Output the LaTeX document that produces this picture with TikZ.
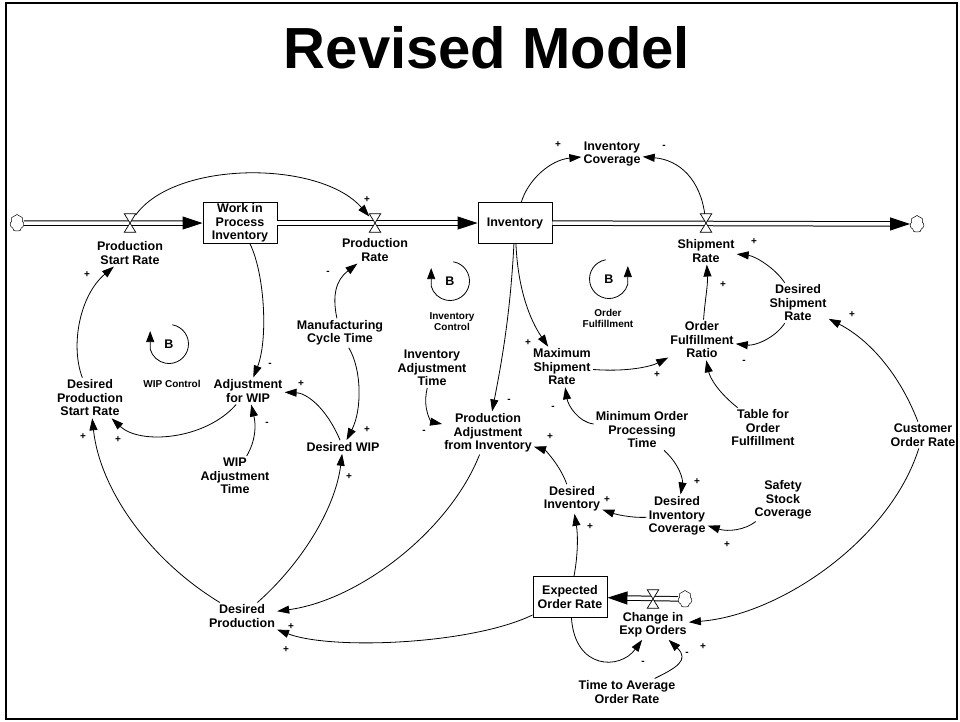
\documentclass[tikz,border=0pt]{standalone}
\usepackage{fontspec}
\setmainfont{Liberation Sans}
\usetikzlibrary{arrows.meta,shapes.symbols,calc}
\begin{document}
\begin{tikzpicture}[x=1pt,y=1pt,
  every node/.style={font=\bfseries\fontsize{12.5}{13.5}\selectfont},
  lbl/.style={align=center, inner sep=2pt},
  stock/.style={draw, line width=0.9pt, minimum width=74pt, minimum height=41pt, align=center, inner sep=1pt, fill=white},
  vlv/.style={minimum width=11pt, minimum height=18pt, inner sep=0pt},
  vshape/.style={draw, fill=white, line width=0.7pt},
  cloudy/.style={cloud, cloud puffs=7, cloud puff arc=120, aspect=0.8, draw, fill=white, minimum width=14pt, minimum height=17pt, inner sep=0pt, line width=0.5pt},
  pipe/.style={double=white, draw=black, line width=1pt, double distance=3.5pt},
  pipehead/.style={-{Triangle[length=20pt,width=13pt]}},
  link/.style={-{Triangle[length=12pt,width=8pt]}, line width=0.8pt},
  loopar/.style={-{Triangle[length=11pt,width=8pt]}, line width=0.8pt},
  sgn/.style={font=\bfseries\fontsize{10}{10}\selectfont, inner sep=0pt},
  loopl/.style={font=\bfseries\fontsize{10}{11}\selectfont, align=center, inner sep=1pt},
]
\useasboundingbox (0,0) rectangle (960,-721);
\draw[line width=2pt] (6,-3) rectangle (957,-719);
\node[font=\bfseries\fontsize{58}{60}\selectfont, anchor=base] (title) at (487,-68) {Revised Model};

% stocks, clouds, valves
\node[cloudy] (cloudL) at (17,-223) {};
\node[stock] (wip) at (240,-223) {Work in\\Process\\Inventory};
\node[stock] (inv) at (515,-223) {Inventory};
\node[cloudy] (cloudR) at (917,-224) {};
\node[stock] (eor) at (570,-597) {Expected\\Order Rate};
\node[cloudy] (cloudE) at (685,-599) {};

\draw[pipe,pipehead] (cloudL) -- (wip);
\draw[pipe,pipehead] (wip) -- (inv);
\draw[pipe,pipehead] (inv) -- (cloudR);
\draw[pipe,pipehead] (cloudE) -- (eor);

\node[vlv] (psr) at (130,-223) {};
\node[vlv] (pr) at (375,-223) {};
\node[vlv] (sr) at (706,-223) {};
\node[vlv] (ceo) at (653,-599) {};
\foreach \v in {psr,pr,sr,ceo}
  \draw[vshape] (\v.north west) -- (\v.north east) -- (\v.south west) -- (\v.south east) -- cycle;

% variable labels
\node[lbl] (psrL) at (130,-253) {Production\\Start Rate};
\node[lbl] (prL) at (375,-250) {Production\\Rate};
\node[lbl] (srL) at (706,-251) {Shipment\\Rate};
\node[lbl] (ceoL) at (653,-625) {Change in\\Exp Orders};
\node[lbl] (invcov) at (612,-154) {Inventory\\Coverage};
\node[lbl] (dsr) at (798,-303) {Desired\\Shipment\\Rate};
\node[lbl] (ofr) at (702,-340) {Order\\Fulfillment\\Ratio};
\node[lbl] (msr) at (562,-367) {Maximum\\Shipment\\Rate};
\node[lbl] (tof) at (763,-428) {Table for\\Order\\Fulfillment};
\node[lbl] (cor) at (923,-435) {Customer\\Order Rate};
\node[lbl] (mopt) at (642,-430) {Minimum Order\\Processing\\Time};
\node[lbl] (dic) at (677,-516) {Desired\\Inventory\\Coverage};
\node[lbl] (ssc) at (783,-500) {Safety\\Stock\\Coverage};
\node[lbl] (dinv) at (572,-499) {Desired\\Inventory};
\node[lbl] (pai) at (488,-433) {Production\\Adjustment\\from Inventory};
\node[lbl] (iat) at (432,-368) {Inventory\\Adjustment\\Time};
\node[lbl] (mct) at (340,-333) {Manufacturing\\Cycle Time};
\node[lbl] (afw) at (248,-391) {Adjustment\\for WIP};
\node[lbl] (dpsr) at (90,-398) {Desired\\Production\\Start Rate};
\node[lbl] (dwip) at (343,-447) {Desired WIP};
\node[lbl] (wat) at (235,-476) {WIP\\Adjustment\\Time};
\node[lbl] (dp) at (242,-616) {Desired\\Production};
\node[lbl] (taor) at (627,-692) {Time to Average\\Order Rate};

% connectors
\draw[link] (psr) .. controls (175,-160) and (320,-160) .. (pr);
\draw[link] (wip) .. controls (265,-275) and (268,-340) .. (afw);
\draw[link] (afw) .. controls (205,-440) and (140,-445) .. (dpsr);
\draw[link] (dpsr) .. controls (70,-345) and (80,-295) .. (psrL);
\draw[link] (mct) .. controls (332,-295) and (336,-280) .. (prL);
\draw[link] (mct) .. controls (362,-370) and (362,-410) .. (dwip);
\draw[link] (dwip) .. controls (325,-405) and (305,-393) .. (afw);
\draw[link] (wat) .. controls (256,-440) and (256,-425) .. (afw);
\draw[link] (dp) .. controls (150,-560) and (100,-490) .. (dpsr);
\draw[link] (dp) .. controls (300,-565) and (335,-510) .. (dwip);
\draw[link] (pai) .. controls (450,-530) and (360,-600) .. (dp);
\draw[link] (eor) .. controls (470,-645) and (330,-650) .. (dp);
\draw[link] (inv) .. controls (528,-180) and (550,-160) .. (invcov);
\draw[link] (sr) .. controls (700,-180) and (680,-160) .. (invcov);
\draw[link] (inv) .. controls (518,-290) and (530,-320) .. (msr);
\draw[link] (inv) .. controls (510,-320) and (500,-370) .. (pai);
\draw[link] (iat) .. controls (422,-410) and (432,-422) .. (pai);
\draw[link] (dinv) .. controls (560,-465) and (545,-450) .. (pai);
\draw[link] (mopt) .. controls (578,-422) and (568,-405) .. (msr);
\draw[link] (msr) .. controls (625,-372) and (650,-367) .. (ofr);
\draw[link] (dsr) .. controls (775,-338) and (755,-346) .. (ofr);
\draw[link] (ofr) .. controls (705,-300) and (708,-285) .. (srL);
\draw[link] (dsr) .. controls (775,-268) and (755,-256) .. (srL);
\draw[link] (tof) .. controls (718,-392) and (710,-378) .. (ofr);
\draw[link] (cor) .. controls (900,-375) and (870,-340) .. (dsr);
\draw[link] (cor) .. controls (890,-540) and (780,-615) .. (ceoL);
\draw[link] (mopt) .. controls (680,-465) and (683,-480) .. (dic);
\draw[link] (ssc) .. controls (745,-530) and (728,-532) .. (dic);
\draw[link] (dic) .. controls (630,-518) and (615,-514) .. (dinv);
\draw[link] (eor) .. controls (578,-555) and (578,-535) .. (dinv);
\draw[link] (eor) .. controls (575,-670) and (620,-670) .. (ceoL);
\draw[link] (taor) .. controls (676,-668) and (690,-660) .. (ceoL);

% loops
\node (wipB) at (169,-344) {B};
\node (invB) at (450,-281) {B};
\node (ofB) at (609,-279) {B};
\draw[loopar] ([shift={(80:19.5)}]wipB.center) arc[start angle=80, end angle=-165, radius=19.5] -- ++(0,18);
\draw[loopar] ([shift={(80:19.5)}]invB.center) arc[start angle=80, end angle=-165, radius=19.5] -- ++(0,18);
\draw[loopar] ([shift={(100:19.5)}]ofB.center) arc[start angle=100, end angle=345, radius=19.5] -- ++(0,18);
\node[loopl] (wipL) at (172,-384) {WIP Control};
\node[loopl] (invL) at (452,-322) {Inventory\\Control};
\node[loopl] (ofL) at (608,-318) {Order\\Fulfillment};

% polarity signs
\node[sgn] (s1) at (367,-200) {+};
\node[sgn] (s2) at (558,-145) {+};
\node[sgn] (s3) at (664,-147) {-};
\node[sgn] (s4) at (87,-275) {+};
\node[sgn] (s5) at (270,-365) {-};
\node[sgn] (s6) at (328,-273) {-};
\node[sgn] (s7) at (301,-384) {+};
\node[sgn] (s8) at (367,-430) {+};
\node[sgn] (s9) at (267,-424) {-};
\node[sgn] (s10) at (118,-440) {+};
\node[sgn] (s11) at (83,-437) {+};
\node[sgn] (s12) at (349,-477) {+};
\node[sgn] (s13) at (291,-627) {+};
\node[sgn] (s14) at (286,-650) {+};
\node[sgn] (s15) at (509,-401) {-};
\node[sgn] (s16) at (528,-343) {+};
\node[sgn] (s17) at (424,-432) {-};
\node[sgn] (s18) at (550,-437) {+};
\node[sgn] (s19) at (553,-408) {-};
\node[sgn] (s20) at (657,-375) {+};
\node[sgn] (s21) at (744,-362) {-};
\node[sgn] (s22) at (723,-285) {+};
\node[sgn] (s23) at (754,-242) {+};
\node[sgn] (s24) at (852,-315) {+};
\node[sgn] (s25) at (697,-482) {+};
\node[sgn] (s26) at (607,-500) {+};
\node[sgn] (s27) at (727,-545) {+};
\node[sgn] (s28) at (590,-527) {+};
\node[sgn] (s29) at (643,-663) {-};
\node[sgn] (s30) at (687,-654) {-};
\node[sgn] (s31) at (703,-647) {+};
\end{tikzpicture}
\end{document}
